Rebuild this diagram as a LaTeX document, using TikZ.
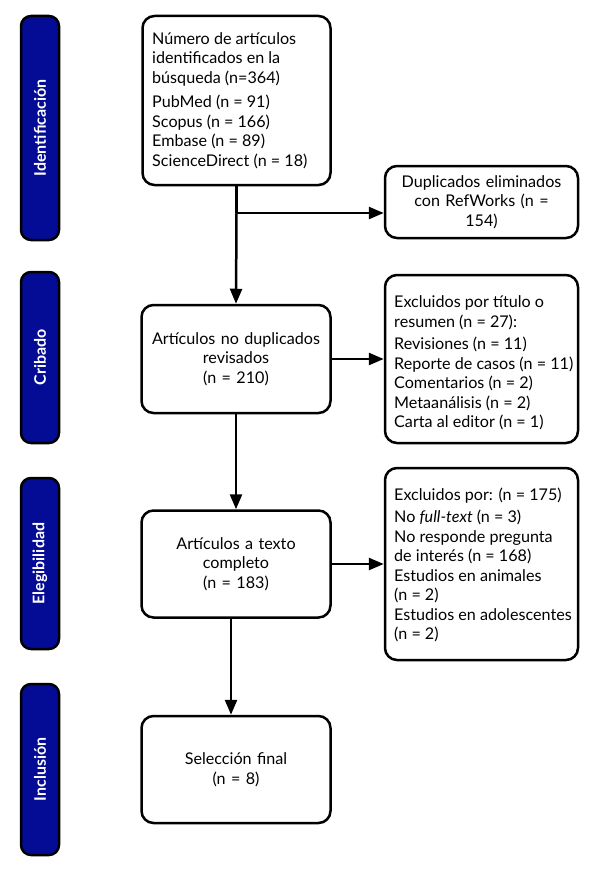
\documentclass[tikz,border=0pt]{standalone}
\usepackage{fontspec}
\setmainfont{Lato}
\usetikzlibrary{arrows.meta}
\definecolor{phaseblue}{RGB}{4,12,150}
\begin{document}
\begin{tikzpicture}[x=1bp,y=-1bp,
  txt/.style={font=\fontsize{16.2}{19.6}\selectfont},
  box/.style={draw=black, line width=2.5bp, rounded corners=12bp, fill=white,
    inner sep=0pt, txt},
  cbox/.style={box, text width=#1, align=center},
  ltext/.style={anchor=west, align=left, inner sep=0pt, txt},
  phase/.style={draw=black, line width=2.5bp, fill=phaseblue, rounded corners=10bp,
    text=white, font=\bfseries\fontsize{16}{18}\selectfont, rotate=90,
    minimum height=38bp, inner sep=0pt},
  arr/.style={line width=2.5bp, -{Triangle[length=15bp,width=12bp]}},
  ln/.style={line width=2.5bp}
]
\useasboundingbox (0,0) rectangle (600,875);

% phase bars
\node[phase, minimum width=224bp] (p1) at (40,128) {Identificación};
\node[phase, minimum width=171bp] (p2) at (40,357.5) {Cribado};
\node[phase, minimum width=171bp] (p3) at (40,563.5) {Elegibilidad};
\node[phase, minimum width=171bp] (p4) at (40,769.5) {Inclusión};

% main boxes
\node[box, minimum width=188bp, minimum height=169bp] (b1) at (236.5,100.5) {};
\node[ltext] (t1) at (152,100.5)
  {Número de artículos\\identificados en la\\búsqueda (n=364)\\[5bp]PubMed (n = 91)\\Scopus (n = 166)\\Embase (n = 89)\\ScienceDirect (n = 18)};
\node[cbox=189bp, minimum height=108bp] (b2) at (236,359)
  {Artículos no duplicados\\revisados\\(n = 210)};
\node[cbox=189bp, minimum height=107bp] (b3) at (236,564)
  {Artículos a texto\\completo\\(n = 183)};
\node[cbox=189bp, minimum height=107bp] (b4) at (236,769.5)
  {Selección final\\(n = 8)};

% side boxes
\node[cbox=193bp, minimum height=72bp] (dup) at (481.5,202)
  {Duplicados eliminados\\con RefWorks (n =\\154)};
\node[box, minimum width=193bp, minimum height=168bp] (e1) at (481.5,359) {};
\node[ltext] (t2) at (394,363)
  {Excluidos por título o\\resumen (n = 27):\\[3bp]Revisiones (n = 11)\\Reporte de casos (n = 11)\\Comentarios (n = 2)\\Metaanálisis (n = 2)\\Carta al editor (n = 1)};
\node[box, minimum width=193bp, minimum height=192bp] (e2) at (481.5,564) {};
\node[ltext] (t3) at (394,565)
  {Excluidos por: (n = 175)\\[3bp]No \textit{full-text} (n = 3)\\No responde pregunta\\de interés (n = 168)\\Estudios en animales\\(n = 2)\\Estudios en adolescentes\\(n = 2)};

% connectors
\coordinate (j) at (b1.south |- 0,213);
\draw[ln] (b1.south) -- (j);
\draw[arr] (j) -- (b2.north);
\draw[arr] (j) -- (dup.west |- j);
\draw[arr] (b2) -- (e1);
\draw[arr] (b2) -- (b3);
\draw[arr] (b3) -- (e2);
\draw[arr] ([xshift=-5bp]b3.south) -- ([xshift=-5bp]b4.north);
\end{tikzpicture}
\end{document}
